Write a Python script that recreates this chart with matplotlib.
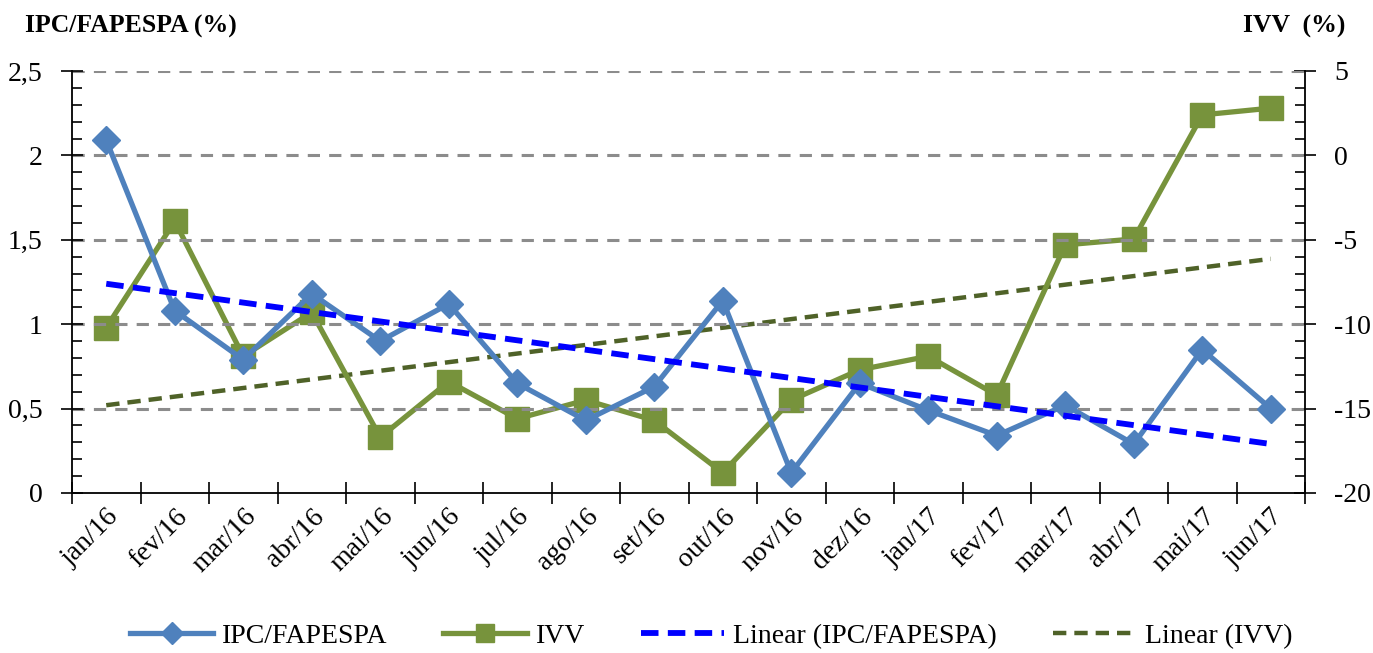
import numpy as np
import matplotlib
matplotlib.use("Agg")
import matplotlib.pyplot as plt
from matplotlib.ticker import FixedLocator, MultipleLocator, FuncFormatter, NullFormatter
from matplotlib.lines import Line2D

months = ["jan/16", "fev/16", "mar/16", "abr/16", "mai/16", "jun/16", "jul/16", "ago/16",
          "set/16", "out/16", "nov/16", "dez/16", "jan/17", "fev/17", "mar/17", "abr/17",
          "mai/17", "jun/17"]
ipc = [2.09, 1.08, 0.79, 1.18, 0.90, 1.12, 0.65, 0.43, 0.63, 1.14, 0.12, 0.65, 0.49, 0.34,
       0.52, 0.29, 0.85, 0.50]
ivv = [-10.2, -3.9, -11.9, -9.3, -16.7, -13.4, -15.6, -14.5, -15.7, -18.8, -14.5, -12.7,
       -11.9, -14.2, -5.3, -4.95, 2.4, 2.8]

plt.rcParams['font.family'] = ['Liberation Serif', 'DejaVu Serif']
plt.rcParams['axes.unicode_minus'] = False

fig = plt.figure(figsize=(13.73, 6.53), dpi=100)
ax = fig.add_axes([72/1373, 1-493/653, (1305-72)/1373, (493-71)/653])
ax2 = ax.twinx()

x = np.arange(len(months))
c_ipc = "#4F81BD"
c_ivv = "#77933C"
c_tipc = "#0000FF"
c_tivv = "#4F6228"

# grid
for v in [0.5, 1.0, 1.5, 2.0, 2.5]:
    ax.axhline(v, color="#8C8C8C", lw=2.2, ls=(0, (4, 3)), zorder=0)

# trend lines
p1 = np.polyfit(x, ipc, 1)
p2 = np.polyfit(x, ivv, 1)
ax.plot(x, np.polyval(p1, x), color=c_tipc, lw=4.2, ls=(0, (3, 1.6)), zorder=4)
ax2.plot(x, np.polyval(p2, x), color=c_tivv, lw=3.2, ls=(0, (3, 1.8)), zorder=1)

ax2.plot(x, ivv, color=c_ivv, lw=3.8, marker="s", markersize=17, zorder=3)
ax.plot(x, ipc, color=c_ipc, lw=3.8, marker="D", markersize=14, zorder=3)

ax.set_zorder(ax2.get_zorder() + 1)
ax.patch.set_visible(False)

ax.set_xlim(-0.5, len(months) - 0.5)
ax.set_ylim(0, 2.5)
ax2.set_ylim(-20, 5)

ax.xaxis.set_major_locator(FixedLocator(np.arange(-0.5, len(months), 1.0)))
ax.xaxis.set_major_formatter(NullFormatter())
ax.set_xticks(x, minor=True)
ax.set_xticklabels(months, minor=True, rotation=45, ha='right', rotation_mode='anchor', fontsize=20)
ax.tick_params(axis='x', which='major', direction='inout', length=16, width=1.2)
ax.tick_params(axis='x', which='minor', length=0, pad=8)

ax.yaxis.set_major_locator(MultipleLocator(0.5))
ax.yaxis.set_minor_locator(MultipleLocator(0.1))
ax.yaxis.set_major_formatter(FuncFormatter(lambda v, p: ("%g" % v).replace('.', ',')))
ax.tick_params(axis='y', which='major', direction='inout', length=16, width=1.2, labelsize=20, pad=13)
ax.tick_params(axis='y', which='minor', direction='in', length=7, width=1.2)

ax2.yaxis.set_major_locator(MultipleLocator(5))
ax2.yaxis.set_minor_locator(MultipleLocator(1))
ax2.tick_params(axis='y', which='major', direction='inout', length=16, width=1.2, labelsize=20, pad=13)
ax2.tick_params(axis='y', which='minor', direction='in', length=7, width=1.2)

for a in (ax, ax2):
    a.spines['top'].set_visible(False)
    for s in ['left', 'right', 'bottom']:
        a.spines[s].set_linewidth(1.3)
ax.spines['right'].set_visible(False)
ax2.spines['left'].set_visible(False)
ax2.spines['bottom'].set_visible(False)

fig.text(25/1373, 1-26/653, "IPC/FAPESPA (%)", fontsize=18.5, fontweight='bold', va='center', ha='left')
fig.text(1345/1373, 1-26/653, "IVV  (%)", fontsize=18.5, fontweight='bold', va='center', ha='right')

handles = [
    Line2D([], [], color=c_ipc, lw=3.8, marker="D", markersize=11),
    Line2D([], [], color=c_ivv, lw=3.8, marker="s", markersize=13),
    Line2D([], [], color=c_tipc, lw=4.2, ls=(0, (3, 1.6))),
    Line2D([], [], color=c_tivv, lw=3.2, ls=(0, (3, 1.8))),
]
labels = ["IPC/FAPESPA", "IVV", "Linear (IPC/FAPESPA)", "Linear (IVV)"]
fig.legend(handles, labels, loc='center', bbox_to_anchor=(0.518, 1-636/653), ncol=4, frameon=False,
           fontsize=20, handlelength=3.0, columnspacing=2.0, handletextpad=0.33)

fig.savefig("out.png", dpi=100)
